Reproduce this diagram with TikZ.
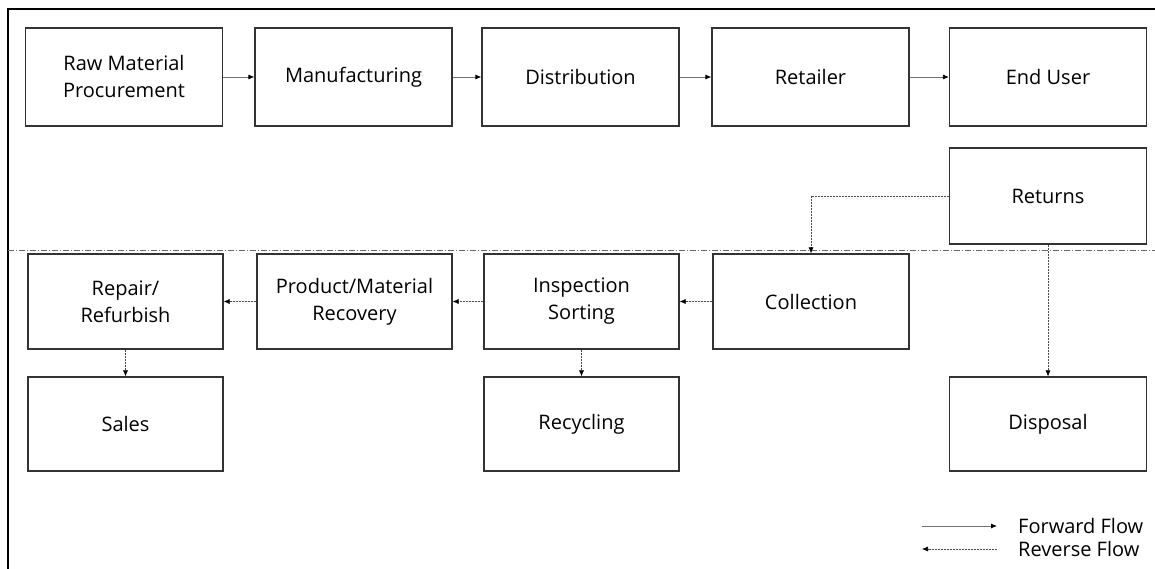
\documentclass[tikz,border=0pt]{standalone}
\usepackage{fontspec}
\setmainfont{Open Sans}
\usetikzlibrary{arrows.meta}
\begin{document}
\begin{tikzpicture}[x=1pt,y=-1pt,
  box/.style={draw=black!80, line width=1.2pt, minimum width=197pt, align=center, font=\fontsize{20}{27}\selectfont, inner sep=0pt},
  fwd/.style={draw=black!55, line width=0.8pt, -{Latex[length=6pt,width=5pt,black]}},
  rev/.style={draw=black!70, line width=0.6pt, dash pattern=on 2pt off 1pt, -{Latex[length=6pt,width=5pt,black]}},
  lbl/.style={anchor=west, font=\fontsize{20}{24}\selectfont, inner sep=0pt}]
\useasboundingbox (0,0) rectangle (1155,569);
\fill[white] (0,0) rectangle (1155,569);
% frame
\draw[line width=1.2pt] (8,569) -- (8,9) -- (1155,9);
% divider
\draw[black!60, line width=0.6pt, dash pattern=on 6pt off 2pt on 1pt off 2pt] (8,250) -- (1155,250);
% row 1
\node[box, minimum height=98pt] (raw) at (124,77) {Raw Material\\Procurement};
\node[box, minimum height=98pt] (man) at (353.5,77) {Manufacturing};
\node[box, minimum height=98pt] (dis) at (580.5,77) {Distribution};
\node[box, minimum height=98pt] (ret) at (810.5,77) {Retailer};
\node[box, minimum height=98pt] (end) at (1048,77) {End User};
\node[box, minimum height=96pt] (rtn) at (1048,196) {Returns};
% row 2
\node[box, minimum width=195pt, minimum height=95pt] (rep) at (125.5,301.5) {Repair/\\Refurbish};
\node[box, minimum width=195pt, minimum height=95pt] (pro) at (354.5,301.5) {Product/Material\\Recovery};
\node[box, minimum width=195pt, minimum height=95pt] (ins) at (581.5,301.5) {Inspection\\Sorting};
\node[box, minimum width=196pt, minimum height=95pt] (col) at (811,301.5) {Collection};
% row 3
\node[box, minimum width=195pt, minimum height=94pt] (sal) at (125.5,424) {Sales};
\node[box, minimum width=195pt, minimum height=94pt] (rec) at (581.5,424) {Recycling};
\node[box, minimum height=94pt] (dsp) at (1048,424) {Disposal};
% forward arrows
\draw[fwd] (raw) -- (man);
\draw[fwd] (man) -- (dis);
\draw[fwd] (dis) -- (ret);
\draw[fwd] (ret) -- (end);
% reverse arrows
\draw[rev] (rtn.west) -| (col.north);
\draw[rev] (rtn.south) -- (dsp.north);
\draw[rev] (col) -- (ins);
\draw[rev] (ins) -- (pro);
\draw[rev] (pro) -- (rep);
\draw[rev] (rep) -- (sal);
\draw[rev] (ins) -- (rec);
% legend
\coordinate (fa) at (922,526);
\coordinate (fb) at (997,526);
\coordinate (ra) at (997,549);
\coordinate (rb) at (922,549);
\draw[fwd] (fa) -- (fb);
\draw[rev] (ra) -- (rb);
\node[lbl] (lf) at (1018,526) {Forward Flow};
\node[lbl] (lr) at (1018,549) {Reverse Flow};
\end{tikzpicture}
\end{document}
